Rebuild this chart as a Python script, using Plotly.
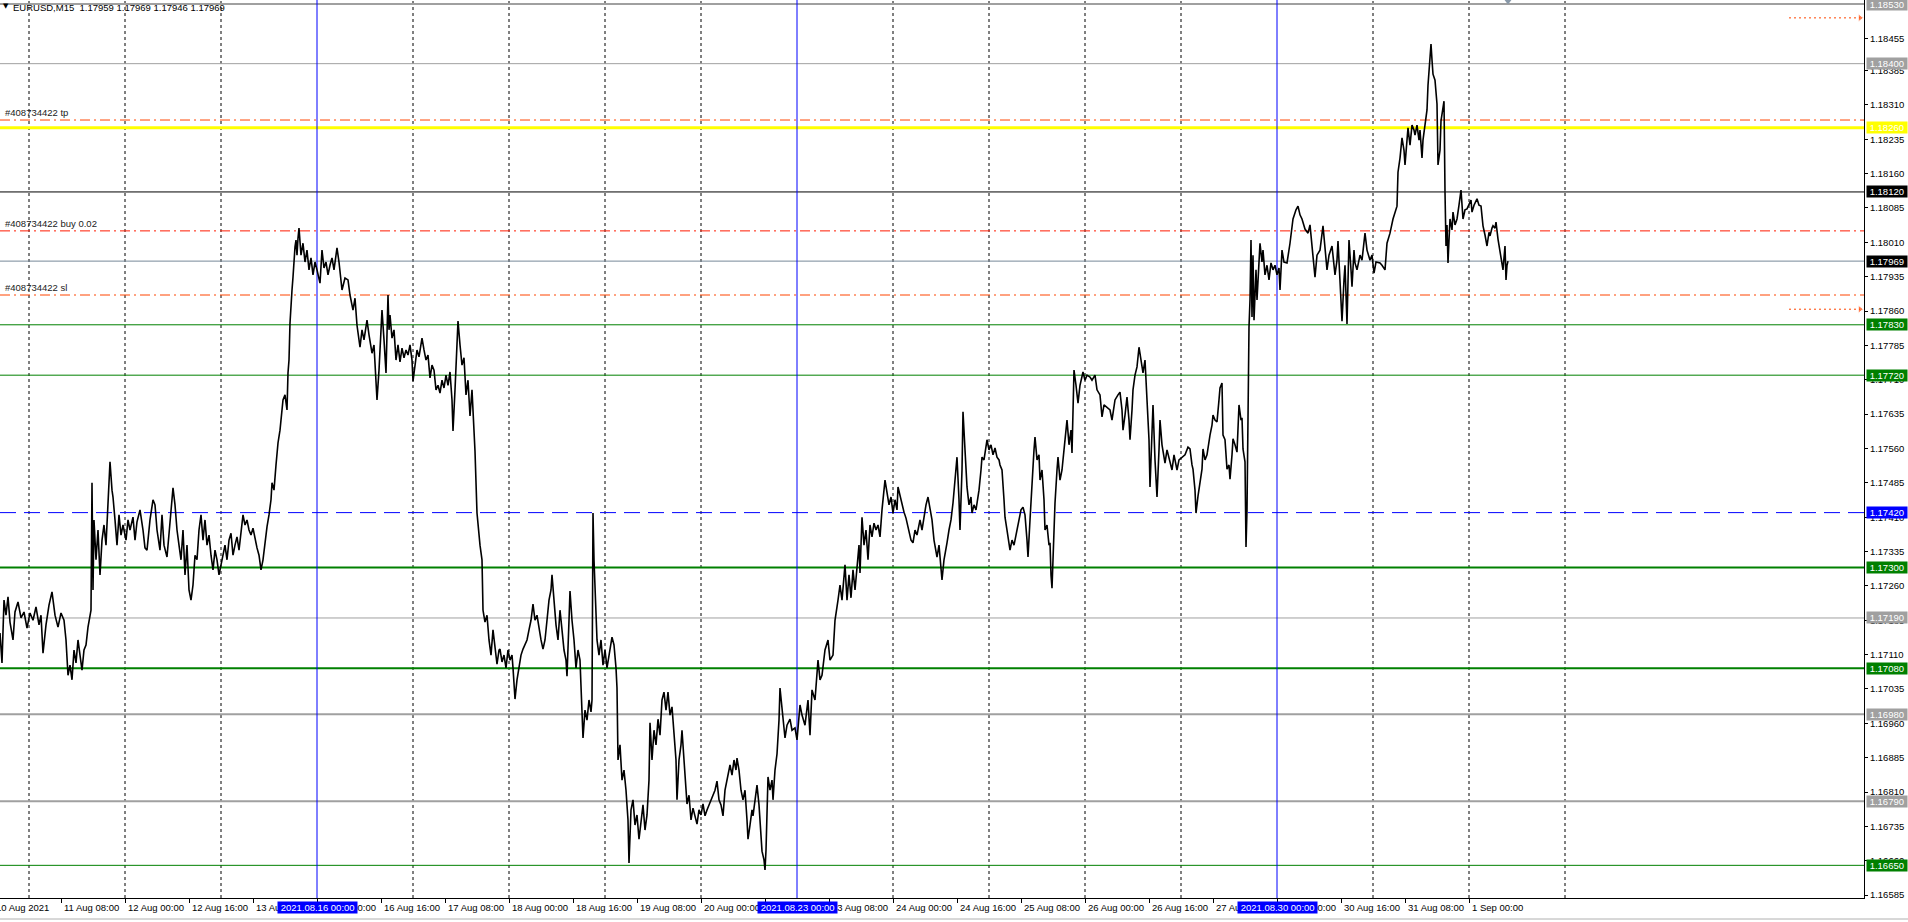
import numpy as np
import pandas as pd
import plotly.graph_objects as go

# ---------------- data ----------------
symbol = "EURUSD,M15"
last_ohlc = ["1.17959", "1.17969", "1.17946", "1.17969"]
first_bar_time = "2021-08-10 16:45"   # first M15 bar shown on the left edge

# M15 bar number (weekends skipped) counted from first_bar_time, and close price
bar_index = [
    0, 2, 4, 6, 8, 10, 13, 15, 18, 21,
    24, 27, 30, 33, 36, 39, 41, 43, 46, 49,
    52, 55, 58, 61, 64, 66, 68, 70, 72, 74,
    76, 78, 80, 82, 84, 86, 88, 90, 91, 92,
    93, 94, 96, 98, 100, 102, 104, 106, 108, 110,
    112, 113, 115, 117, 119, 121, 123, 126, 128, 130,
    133, 135, 137, 140, 143, 145, 147, 150, 153, 155,
    157, 160, 162, 164, 167, 170, 173, 175, 177, 179,
    181, 183, 185, 187, 189, 191, 193, 195, 197, 199,
    201, 203, 205, 207, 209, 211, 213, 215, 217, 219,
    221, 223, 225, 227, 229, 231, 233, 235, 237, 239,
    241, 243, 245, 247, 249, 251, 253, 255, 257, 259,
    261, 263, 265, 267, 269, 271, 272, 274, 276, 278,
    280, 282, 283, 285, 287, 288, 289, 290, 291, 292,
    293, 294, 295, 296, 297, 298, 299, 301, 303, 305,
    307, 309, 311, 313, 315, 317, 319, 320, 322, 324,
    326, 328, 330, 332, 334, 337, 339, 342, 345, 348,
    350, 353, 355, 357, 360, 362, 364, 367, 369, 372,
    374, 377, 379, 382, 384, 386, 388, 389,
    390, 392, 394, 396, 398, 400, 402, 404, 406, 408,
    410, 412, 413, 415, 417, 419, 421, 422, 424, 426,
    428, 430, 432, 434, 436, 438, 440, 442, 444, 446,
    448, 450, 452, 453, 455, 456, 457, 458, 460, 462,
    464, 466, 468, 470, 472, 473, 475, 477, 478, 480,
    482, 483, 485, 487, 489, 491, 493, 495, 497, 499,
    500, 502, 504, 506, 508, 510, 512, 513, 515, 517,
    519, 521, 523, 525, 527, 529, 531, 533, 535, 537,
    539, 541, 543, 545, 547, 549, 551, 552, 554, 556,
    558, 560, 562, 564, 566, 567, 569, 570, 572, 574,
    576, 578, 580, 581, 583, 585, 587, 589, 591, 592,
    593, 594, 595, 597, 599, 601, 603, 605, 607, 609,
    611, 612, 614, 616, 617, 618, 620, 622, 624, 626,
    628, 629, 631, 633, 635, 637, 639, 641, 643, 645,
    647, 649, 650, 652, 654, 656, 658, 660, 662, 664,
    666, 668, 670, 672, 674, 676, 677, 679, 681, 682,
    684, 686, 687, 689, 691, 693, 695, 697, 699, 701,
    703, 705, 707, 709, 711, 713, 715, 717, 719, 721,
    723, 725, 727, 729, 730, 732, 734, 736, 737, 739,
    741, 743, 745, 747, 748, 750, 752, 753, 755, 757,
    759, 761, 762, 764, 765, 766, 768, 770, 772, 773,
    775, 777, 779, 780, 782, 784, 785, 787, 789, 790,
    792, 795, 797, 800, 802, 805, 808, 810, 812, 815,
    818, 820, 822, 825, 828, 830, 833, 835, 838, 840,
    842, 843, 845, 847, 849, 851, 853, 855, 857, 859,
    860, 862, 864, 866, 868, 870, 872, 874, 876, 878,
    880, 882, 885, 887, 889, 891, 893, 895, 897, 898,
    900, 902, 904, 906, 907, 909, 911, 913, 915, 917,
    919, 920, 922, 924, 926, 928, 930, 932, 934, 936,
    937, 939, 941, 942, 944, 946, 947, 949, 951, 953,
    955, 957, 959, 960, 962, 963, 965, 967, 969, 971,
    972, 974, 976, 979, 981, 982, 984, 986, 987, 989,
    991, 993, 995, 997, 999, 1000, 1002, 1004, 1005, 1007,
    1009, 1010, 1012, 1014, 1016, 1017, 1019, 1021, 1023, 1025,
    1027, 1028, 1030, 1032, 1034, 1035, 1037, 1039, 1040, 1042,
    1044, 1045, 1047, 1049, 1050, 1051, 1052, 1053, 1055, 1057,
    1058, 1060, 1062, 1063, 1065, 1067, 1069, 1071, 1072, 1073,
    1074, 1076, 1078, 1080, 1083, 1085, 1087, 1090, 1092, 1095,
    1097, 1100, 1102, 1104, 1107, 1110, 1112, 1115, 1118, 1120,
    1122, 1123, 1125, 1127, 1129, 1130, 1132, 1133, 1135, 1137,
    1139, 1141, 1143, 1145, 1147, 1149, 1150, 1152, 1153, 1155,
    1157, 1159, 1160, 1162, 1165, 1167, 1170, 1172, 1174, 1177,
    1179, 1182, 1185, 1188,
    1190, 1192, 1193, 1195, 1196, 1198, 1200, 1202, 1203, 1205,
    1207, 1209, 1210, 1212, 1213, 1215, 1217, 1219, 1220, 1222,
    1223, 1225, 1227, 1229, 1230, 1232, 1233, 1235, 1237, 1239,
    1241, 1242, 1243, 1245, 1246, 1247, 1248, 1249, 1250, 1251,
    1252, 1253, 1254, 1256, 1257, 1259, 1260, 1262, 1263, 1265,
    1267, 1269, 1271, 1273, 1275, 1277, 1279, 1280, 1282, 1284,
    1287, 1290, 1293, 1296, 1298, 1300, 1302, 1305, 1308, 1310,
    1312, 1315, 1317, 1320, 1323, 1325, 1327, 1329, 1332, 1335,
    1337, 1338, 1340, 1342, 1344, 1345, 1347, 1349, 1351, 1352,
    1354, 1355, 1357, 1360, 1362, 1365, 1367, 1370, 1372, 1374,
    1376, 1380, 1382, 1385, 1387, 1390, 1393, 1395, 1397, 1398,
    1400, 1402, 1404, 1405, 1407, 1408, 1410, 1412, 1414, 1415,
    1417, 1419, 1420, 1422, 1423, 1425, 1427, 1428, 1430, 1431,
    1432, 1433, 1435, 1437, 1438, 1440, 1441, 1443, 1444, 1445,
    1446, 1447, 1448, 1449, 1450, 1452, 1453, 1455, 1457, 1459,
    1461, 1463, 1465, 1467, 1469, 1471, 1472, 1474, 1477, 1479,
    1481, 1483, 1485, 1487, 1489, 1490, 1492, 1493, 1495, 1496,
    1498, 1500, 1502, 1503, 1505, 1506, 1507, 1508,
]

close = [
    1.17157, 1.17092, 1.17229, 1.17196, 1.17236, 1.17181, 1.17142, 1.17203, 1.17225, 1.17190,
    1.17203, 1.17168, 1.17201, 1.17185, 1.17214, 1.17175, 1.17196, 1.17113, 1.17175, 1.17218,
    1.17247, 1.17196, 1.17170, 1.17201, 1.17185, 1.17142, 1.17065, 1.17087, 1.17055, 1.17120,
    1.17092, 1.17142, 1.17109, 1.17076, 1.17120, 1.17131, 1.17170, 1.17190, 1.17207, 1.17485,
    1.17251, 1.17404, 1.17317, 1.17382, 1.17284, 1.17360, 1.17393, 1.17349, 1.17448, 1.17531,
    1.17469, 1.17454, 1.17404, 1.17349, 1.17415, 1.17371, 1.17393, 1.17360, 1.17404, 1.17382,
    1.17410, 1.17360, 1.17400, 1.17426, 1.17382, 1.17343, 1.17338, 1.17404, 1.17448, 1.17437,
    1.17382, 1.17338, 1.17415, 1.17349, 1.17323, 1.17404, 1.17474, 1.17437, 1.17382, 1.17349,
    1.17317, 1.17382, 1.17284, 1.17349, 1.17251, 1.17229, 1.17262, 1.17327, 1.17317, 1.17382,
    1.17415, 1.17360, 1.17404, 1.17349, 1.17371, 1.17327, 1.17295, 1.17338, 1.17317, 1.17284,
    1.17306, 1.17327, 1.17349, 1.17317, 1.17360, 1.17375, 1.17327, 1.17349, 1.17367, 1.17338,
    1.17382, 1.17415, 1.17393, 1.17404, 1.17382, 1.17371, 1.17386, 1.17360, 1.17343, 1.17327,
    1.17295, 1.17317, 1.17360, 1.17389, 1.17415, 1.17448, 1.17485, 1.17469, 1.17524, 1.17572,
    1.17600, 1.17644, 1.17666, 1.17677, 1.17644, 1.17725, 1.17753, 1.17834, 1.17884, 1.17906,
    1.17934, 1.17971, 1.18000, 1.18015, 1.17982, 1.18019, 1.18041, 1.17982, 1.18008, 1.17967,
    1.17993, 1.17950, 1.17976, 1.17939, 1.17967, 1.17950, 1.17934, 1.17921, 1.17993, 1.17954,
    1.17967, 1.17939, 1.17960, 1.17976, 1.17950, 1.17998, 1.17967, 1.17906, 1.17932, 1.17928,
    1.17895, 1.17862, 1.17888, 1.17829, 1.17781, 1.17819, 1.17797, 1.17840, 1.17808, 1.17768,
    1.17786, 1.17666, 1.17731, 1.17862, 1.17797, 1.17725, 1.17895, 1.17819,
    1.17851, 1.17801, 1.17819, 1.17753, 1.17786, 1.17749, 1.17779, 1.17758, 1.17775, 1.17764,
    1.17786, 1.17753, 1.17707, 1.17742, 1.17775, 1.17760, 1.17792, 1.17801, 1.17775, 1.17753,
    1.17764, 1.17714, 1.17742, 1.17731, 1.17688, 1.17698, 1.17681, 1.17709, 1.17692, 1.17720,
    1.17698, 1.17727, 1.17666, 1.17598, 1.17688, 1.17753, 1.17808, 1.17838, 1.17786, 1.17742,
    1.17758, 1.17677, 1.17709, 1.17631, 1.17688, 1.17644, 1.17554, 1.17419, 1.17393, 1.17349,
    1.17317, 1.17207, 1.17181, 1.17196, 1.17142, 1.17109, 1.17164, 1.17131, 1.17089, 1.17120,
    1.17122, 1.17094, 1.17109, 1.17081, 1.17120, 1.17098, 1.17109, 1.17081, 1.17013, 1.17055,
    1.17087, 1.17109, 1.17122, 1.17131, 1.17142, 1.17164, 1.17185, 1.17220, 1.17185, 1.17196,
    1.17164, 1.17142, 1.17122, 1.17142, 1.17185, 1.17229, 1.17251, 1.17284, 1.17229, 1.17175,
    1.17142, 1.17207, 1.17164, 1.17120, 1.17098, 1.17063, 1.17185, 1.17249, 1.17185, 1.17142,
    1.17081, 1.17120, 1.17098, 1.17033, 1.16928, 1.16989, 1.16967, 1.17011, 1.16985, 1.17011,
    1.17419, 1.17317, 1.17249, 1.17142, 1.17109, 1.17142, 1.17087, 1.17120, 1.17081, 1.17109,
    1.17131, 1.17148, 1.17131, 1.17081, 1.17037, 1.16880, 1.16913, 1.16836, 1.16858, 1.16814,
    1.16749, 1.16655, 1.16771, 1.16793, 1.16738, 1.16760, 1.16707, 1.16749, 1.16782, 1.16727,
    1.16760, 1.16836, 1.16961, 1.16880, 1.16945, 1.16913, 1.16969, 1.16934, 1.17011, 1.17028,
    1.16989, 1.17028, 1.16978, 1.16996, 1.16945, 1.16880, 1.16793, 1.16880, 1.16913, 1.16945,
    1.16880, 1.16814, 1.16784, 1.16803, 1.16749, 1.16775, 1.16760, 1.16740, 1.16771, 1.16760,
    1.16784, 1.16758, 1.16771, 1.16782, 1.16793, 1.16803, 1.16814, 1.16834, 1.16793, 1.16782,
    1.16758, 1.16814, 1.16836, 1.16858, 1.16869, 1.16847, 1.16880, 1.16858, 1.16884, 1.16858,
    1.16814, 1.16793, 1.16814, 1.16749, 1.16707, 1.16738, 1.16771, 1.16758, 1.16793, 1.16825,
    1.16782, 1.16727, 1.16681, 1.16662, 1.16640, 1.16683, 1.16843, 1.16814, 1.16836, 1.16793,
    1.16858, 1.16893, 1.16967, 1.17037, 1.16989, 1.16945, 1.16928, 1.16956, 1.16967, 1.16969,
    1.16945, 1.16950, 1.16924, 1.17000, 1.16978, 1.16956, 1.17011, 1.16934, 1.17033, 1.17011,
    1.17098, 1.17055, 1.17065, 1.17120, 1.17142, 1.17098, 1.17109, 1.17185, 1.17229, 1.17262,
    1.17229, 1.17251, 1.17306, 1.17229, 1.17284, 1.17234, 1.17295, 1.17251, 1.17310, 1.17349,
    1.17288, 1.17410, 1.17349, 1.17382, 1.17317, 1.17393, 1.17367, 1.17397, 1.17382, 1.17393,
    1.17367, 1.17426, 1.17491, 1.17458, 1.17437, 1.17454, 1.17419, 1.17448, 1.17426, 1.17476,
    1.17458, 1.17437, 1.17421, 1.17408, 1.17397, 1.17382, 1.17360, 1.17354, 1.17382, 1.17371,
    1.17393, 1.17404, 1.17382, 1.17415, 1.17437, 1.17454, 1.17426, 1.17404, 1.17360, 1.17338,
    1.17323, 1.17349, 1.17295, 1.17273, 1.17317, 1.17349, 1.17354, 1.17382, 1.17404, 1.17441,
    1.17491, 1.17541, 1.17448, 1.17382, 1.17513, 1.17640, 1.17557, 1.17476, 1.17437, 1.17454,
    1.17419, 1.17437, 1.17426, 1.17469, 1.17513, 1.17541, 1.17535, 1.17568, 1.17579, 1.17557,
    1.17568, 1.17546, 1.17561, 1.17541, 1.17535, 1.17524, 1.17513, 1.17448, 1.17410, 1.17382,
    1.17349, 1.17338, 1.17360, 1.17349, 1.17371, 1.17382, 1.17404, 1.17426, 1.17432, 1.17415,
    1.17360, 1.17323, 1.17404, 1.17491, 1.17557, 1.17585, 1.17535, 1.17546, 1.17491, 1.17513,
    1.17448, 1.17382, 1.17393, 1.17349, 1.17354, 1.17284, 1.17255, 1.17317, 1.17441, 1.17513,
    1.17541, 1.17491, 1.17513, 1.17535, 1.17579, 1.17622, 1.17568, 1.17600, 1.17550, 1.17666,
    1.17731, 1.17698, 1.17659, 1.17698, 1.17727, 1.17709, 1.17720, 1.17716, 1.17709, 1.17720,
    1.17688, 1.17677, 1.17629, 1.17655, 1.17650, 1.17644, 1.17622, 1.17666, 1.17677, 1.17683,
    1.17644, 1.17600, 1.17633, 1.17672, 1.17622, 1.17579, 1.17644, 1.17688, 1.17720, 1.17738,
    1.17781, 1.17753, 1.17725, 1.17753, 1.17672, 1.17579, 1.17476, 1.17622, 1.17655, 1.17535,
    1.17454, 1.17557, 1.17622, 1.17568, 1.17528, 1.17557, 1.17528, 1.17513, 1.17546, 1.17513,
    1.17535, 1.17541, 1.17546, 1.17563,
    1.17559, 1.17524, 1.17515, 1.17469, 1.17419, 1.17456, 1.17491, 1.17515, 1.17559, 1.17535,
    1.17546, 1.17579, 1.17589, 1.17611, 1.17633, 1.17622, 1.17618, 1.17666, 1.17692, 1.17703,
    1.17589, 1.17579, 1.17515, 1.17524, 1.17493, 1.17546, 1.17581, 1.17568, 1.17552, 1.17655,
    1.17622, 1.17627, 1.17559, 1.17531, 1.17345, 1.17426, 1.17729, 1.17825, 1.17884, 1.18015,
    1.17847, 1.17982, 1.17840, 1.17950, 1.17884, 1.17971, 1.18008, 1.17967, 1.17993, 1.17939,
    1.17960, 1.17928, 1.17965, 1.17950, 1.17960, 1.17939, 1.17954, 1.17906, 1.17993, 1.17967,
    1.17965, 1.18008, 1.18061, 1.18081, 1.18089, 1.18070, 1.18061, 1.18039, 1.18030, 1.18048,
    1.18002, 1.17934, 1.17982, 1.17993, 1.18046, 1.17993, 1.17950, 1.17982, 1.18002, 1.17939,
    1.17971, 1.18013, 1.17906, 1.17838, 1.17928, 1.17960, 1.17832, 1.18015, 1.17950, 1.17913,
    1.17993, 1.17965, 1.17950, 1.17982, 1.17971, 1.18030, 1.17993, 1.17971, 1.17982, 1.17943,
    1.17967, 1.17965, 1.17960, 1.17950, 1.18008, 1.18030, 1.18061, 1.18076, 1.18089, 1.18163,
    1.18194, 1.18238, 1.18211, 1.18179, 1.18233, 1.18260, 1.18222, 1.18266, 1.18255, 1.18244,
    1.18266, 1.18233, 1.18255, 1.18194, 1.18233, 1.18266, 1.18299, 1.18353, 1.18408, 1.18443,
    1.18408, 1.18377, 1.18364, 1.18312, 1.18179, 1.18211, 1.18275, 1.18310, 1.18318, 1.18120,
    1.18002, 1.18048, 1.17965, 1.18015, 1.18061, 1.18037, 1.18076, 1.18048, 1.18061, 1.18091,
    1.18124, 1.18061, 1.18081, 1.18083, 1.18091, 1.18102, 1.18076, 1.18091, 1.18105, 1.18091,
    1.18089, 1.18046, 1.18026, 1.18002, 1.18032, 1.18024, 1.18041, 1.18046, 1.18041, 1.18054,
    1.18017, 1.17993, 1.17960, 1.17950, 1.18002, 1.17928, 1.17960, 1.17969,
]

bid_price = 1.17969
level_prices = [1.18530, 1.18400, 1.18260, 1.18120, 1.17830, 1.17720, 1.17420,
                1.17300, 1.17190, 1.17080, 1.16980, 1.16790, 1.16650]
order_prices = [1.18277, 1.18035, 1.17895]
order_labels = ["#408734422 tp", "#408734422 buy 0.02", "#408734422 sl"]
arrow_prices = [1.18500, 1.17864]

vline_times = ["2021-08-16 00:00", "2021-08-23 00:00", "2021-08-30 00:00"]

first_date_label = "10 Aug 2021"
time_label_times = [
    "2021-08-11 08:00", "2021-08-12 00:00", "2021-08-12 16:00", "2021-08-13 08:00",
    "2021-08-16 00:00", "2021-08-16 16:00", "2021-08-17 08:00", "2021-08-18 00:00",
    "2021-08-18 16:00", "2021-08-19 08:00", "2021-08-20 00:00", "2021-08-20 16:00",
    "2021-08-23 08:00", "2021-08-24 00:00", "2021-08-24 16:00", "2021-08-25 08:00",
    "2021-08-26 00:00", "2021-08-26 16:00", "2021-08-27 08:00", "2021-08-30 00:00",
    "2021-08-30 16:00", "2021-08-31 08:00", "2021-09-01 00:00",
]
time_label_texts = [
    "11 Aug 08:00", "12 Aug 00:00", "12 Aug 16:00", "13 Aug 08:00",
    "16 Aug 00:00", "16 Aug 16:00", "17 Aug 08:00", "18 Aug 00:00",
    "18 Aug 16:00", "19 Aug 08:00", "20 Aug 00:00", "20 Aug 16:00",
    "23 Aug 08:00", "24 Aug 00:00", "24 Aug 16:00", "25 Aug 08:00",
    "26 Aug 00:00", "26 Aug 16:00", "27 Aug 08:00", "30 Aug 00:00",
    "30 Aug 16:00", "31 Aug 08:00", "1 Sep 00:00",
]
grid_first_day = "2021-08-11"
grid_last_day = "2021-09-02"

price_ticks = [1.18455, 1.18385, 1.18310, 1.18235, 1.18160, 1.18085, 1.18010, 1.17935,
               1.17860, 1.17785, 1.17710, 1.17635, 1.17560, 1.17485, 1.17410, 1.17335,
               1.17260, 1.17185, 1.17110, 1.17035, 1.16960, 1.16885, 1.16810, 1.16735,
               1.16660, 1.16585]
price_range = [1.165787, 1.18539]
visible_bars = 1864

# ---------------- styles ----------------
FONT = "Liberation Sans, Arial, sans-serif"
FS = 9.5
W, H = 1908, 922
PLOT_H = 898
level_colors = ["#A0A0A0", "#A0A0A0", "#FFFF00", "#000000", "#008000", "#008000", "#0000FF",
                "#008000", "#A0A0A0", "#008000", "#A0A0A0", "#A0A0A0", "#008000"]
level_widths = [2, 1, 3, 1, 1, 1, 1, 2, 1, 2, 2, 2, 1]
level_dashes = ["solid"] * 6 + ["16px,8px"] + ["solid"] * 6
order_colors = ["#FF4500", "#FF1A00", "#FF4500"]
NB = "\u00a0"

START = pd.Timestamp(first_bar_time)


def bar_of(ts):
    """M15 bar number of a timestamp, skipping weekends (as MetaTrader does)."""
    ts = pd.Timestamp(ts)
    days = (ts.normalize() - START.normalize()).days
    weekend_days = days - int(np.busday_count(START.date(), ts.date()))
    minutes = (ts - START).total_seconds() / 60 - weekend_days * 1440
    return minutes / 15


n = min(len(bar_index), len(close))
fig = go.Figure()

vline_bars = [bar_of(t) for t in vline_times]

shapes = []
# daily grid (not where a blue separator line is drawn)
for d in pd.bdate_range(grid_first_day, grid_last_day):
    b = bar_of(d)
    if any(abs(b - vb) < 0.5 for vb in vline_bars):
        continue
    shapes.append(dict(type="line", xref="x", x0=b, x1=b, yref="paper", y0=0, y1=1,
                       line=dict(color="black", width=1, dash="3px,3px"), layer="below"))
# level lines
for p, c, w, d in zip(level_prices, level_colors, level_widths, level_dashes):
    shapes.append(dict(type="line", xref="paper", x0=0, x1=1, yref="y", y0=p, y1=p,
                       line=dict(color=c, width=w, dash=d), layer="below"))
# bid line
shapes.append(dict(type="line", xref="paper", x0=0, x1=1, yref="y", y0=bid_price, y1=bid_price,
                   line=dict(color="#778899", width=1), layer="below"))
# order lines
for p, c in zip(order_prices, order_colors):
    shapes.append(dict(type="line", xref="paper", x0=0, x1=1, yref="y", y0=p, y1=p,
                       line=dict(color=c, width=1, dash="10px,4px,2px,4px"), layer="below"))
# vertical blue lines
for b in vline_bars:
    shapes.append(dict(type="line", xref="x", x0=b, x1=b, yref="paper", y0=0, y1=1,
                       line=dict(color="#0000FF", width=1), layer="below"))
# bottom tab strip
shapes.append(dict(type="line", xref="paper", x0=0, x1=1.0236, yref="paper",
                   y0=-21 / PLOT_H, y1=-21 / PLOT_H, line=dict(color="#B0B0B0", width=1)))

# price line
fig.add_trace(go.Scatter(x=bar_index[:n], y=close[:n], mode="lines",
                         line=dict(color="black", width=1.6), hoverinfo="skip"))

# dotted trade arrows on the right
for p in arrow_prices:
    fig.add_trace(go.Scatter(x=[1789, 1860], y=[p, p], mode="lines+markers",
                             line=dict(color="#FF4500", width=1, dash="2px,3px"),
                             marker=dict(symbol="triangle-right", size=[0, 7], color="#FF4500"),
                             hoverinfo="skip", cliponaxis=False))

# chart-shift marker at the top
fig.add_trace(go.Scatter(x=[bar_index[n - 1]], y=[price_range[1]], mode="markers",
                         marker=dict(symbol="triangle-down", size=9, color="#8898A8"),
                         hoverinfo="skip", cliponaxis=False))

ann = []
# title
ann.append(dict(xref="paper", yref="paper", x=0, y=1, xanchor="left", yanchor="middle",
                xshift=1, yshift=-6, text="\u25bc", showarrow=False,
                font=dict(family="DejaVu Sans", size=7, color="black")))
ann.append(dict(xref="paper", yref="paper", x=0, y=1, xanchor="left", yanchor="middle",
                xshift=11, yshift=-7,
                text=symbol + NB + NB + " ".join(last_ohlc), showarrow=False,
                font=dict(family=FONT, size=FS, color="black")))
# order labels
for p, t in zip(order_prices, order_labels):
    ann.append(dict(xref="paper", yref="y", x=0, y=p, xanchor="left", yanchor="bottom",
                    xshift=3, yshift=0, text=t, showarrow=False,
                    font=dict(family=FONT, size=FS, color="#1a1a1a")))
# time labels
ann.append(dict(xref="paper", yref="paper", x=0, y=0, xanchor="left", yanchor="middle",
                xshift=-6, yshift=-9, text=first_date_label, showarrow=False,
                font=dict(family=FONT, size=FS, color="black")))
for t, txt in zip(time_label_times, time_label_texts):
    ann.append(dict(xref="x", yref="paper", x=bar_of(t), y=0, xanchor="left", yanchor="middle",
                    xshift=1, yshift=-9, text=txt, showarrow=False,
                    font=dict(family=FONT, size=FS, color="black")))
# blue date boxes for the vertical lines
for t in vline_times:
    ts = pd.Timestamp(t)
    ann.append(dict(xref="x", yref="paper", x=bar_of(t), y=0, xanchor="center", yanchor="middle",
                    yshift=-9, text=NB + ts.strftime("%Y.%m.%d %H:%M") + NB, showarrow=False,
                    bgcolor="#0000FF", borderpad=0,
                    font=dict(family=FONT, size=FS, color="white")))
# price label boxes
for p, c in zip(level_prices, level_colors):
    ann.append(dict(xref="paper", yref="y", x=1, y=p, xanchor="left", yanchor="middle",
                    xshift=2, text=NB + f"{p:.5f}" + NB, showarrow=False, bgcolor=c, borderpad=0,
                    font=dict(family=FONT, size=FS, color="white")))
ann.append(dict(xref="paper", yref="y", x=1, y=bid_price, xanchor="left", yanchor="middle",
                xshift=2, text=NB + f"{bid_price:.5f}" + NB, showarrow=False, bgcolor="#000000",
                borderpad=0, font=dict(family=FONT, size=FS, color="white")))

fig.update_layout(
    width=W, height=H,
    margin=dict(l=0, r=W - visible_bars, t=0, b=H - PLOT_H, autoexpand=False),
    paper_bgcolor="white", plot_bgcolor="white",
    showlegend=False, hovermode=False, dragmode=False,
    font=dict(family=FONT, size=FS, color="black"),
    shapes=shapes, annotations=ann,
    xaxis=dict(range=[0, visible_bars], showgrid=False, zeroline=False,
               showline=True, linecolor="black", linewidth=1,
               ticks="outside", ticklen=4, tickcolor="black",
               tickvals=[bar_of(t) for t in time_label_times],
               showticklabels=False, automargin=False, fixedrange=True),
    yaxis=dict(range=price_range, side="right", showgrid=False, zeroline=False,
               showline=True, linecolor="black", linewidth=1,
               ticks="outside", ticklen=3, tickcolor="black",
               tickvals=price_ticks, ticktext=[f"{v:.5f}" for v in price_ticks],
               tickfont=dict(family=FONT, size=FS, color="black"),
               automargin=False, fixedrange=True),
)

fig.write_html("out.html", config={"displayModeBar": False, "staticPlot": True},
               post_script="document.body.style.margin='0px';document.body.style.overflow='hidden';")
